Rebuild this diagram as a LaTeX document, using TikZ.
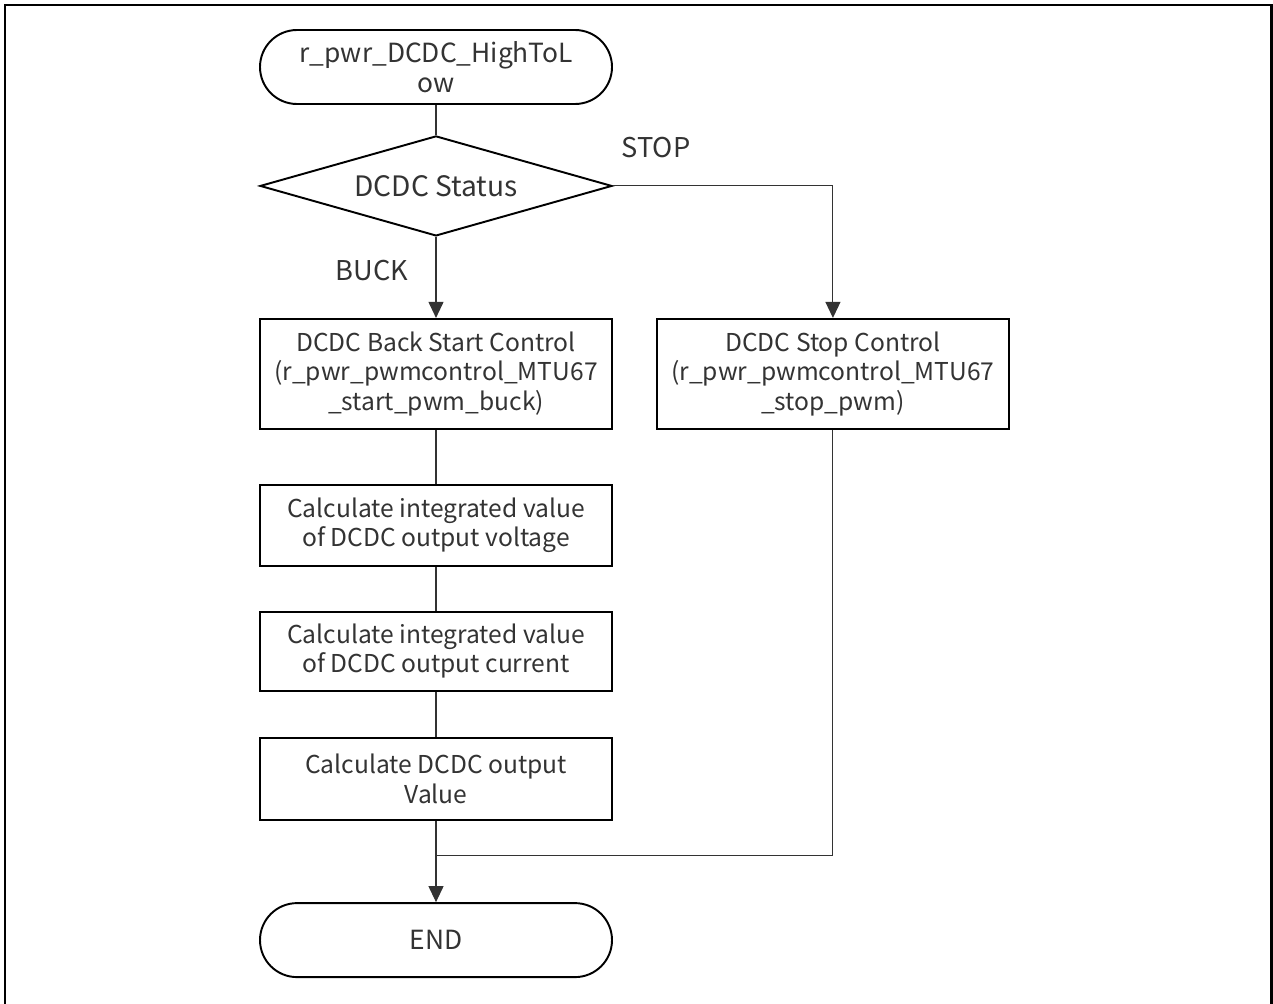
\documentclass[tikz,border=0pt]{standalone}
\usepackage{fontspec}
\setmainfont{Noto Sans CJK JP}
\usepackage{tikz}
\usetikzlibrary{
    arrows.meta,
    positioning,
    calc,
    shapes.geometric
}
\tikzset{
    terminal/.style={
        draw,
        line width=1.1pt,
        rounded corners=7.4mm,
        minimum width=70.4mm,
        minimum height=14.8mm,
        align=center,
        font=\fontsize{15}{17}\selectfont
    }
}
\tikzset{
    decision/.style={
        draw,
        diamond,
        shape aspect=3.5,
        line width=1.1pt,
        inner sep=0pt,
        minimum width=70.4mm,
        minimum height=20mm,
        align=center,
        font=\fontsize{16}{19}\selectfont
    }
}
\tikzset{
    process/.style={
        draw,
        line width=1.1pt,
        minimum width=70.4mm,
        align=center
    }
}
\tikzset{
    flowline/.style={
        draw=black!80,
        line width=0.6pt
    }
}
\tikzset{
    flowarrow/.style={
        flowline,
        -{Triangle[length=3.2mm,width=3mm]}
    }
}
\tikzset{
    branchlabel/.style={
        font=\fontsize{15.5}{18}\selectfont,
        text=black!80
    }
}

\begin{document}
\begin{tikzpicture}[
    font=\fontsize{14}{16.8}\selectfont,
    text=black!80,
    node distance=10mm
]

\useasboundingbox (0,0) rectangle (25.46,-20.06);

% ------------------------------------------------------------
% Frame
% ------------------------------------------------------------

\draw[line width=1.2pt]
    (0.1,-20.2) -- (0.1,-0.1) -- (25.43,-0.1) -- (25.43,-20.2);

% ------------------------------------------------------------
% Start and decision
% ------------------------------------------------------------

\node[terminal] (start) at (8.72,-1.34)
    {r\_pwr\_DCDC\_HighToL\\ow};

\node[decision, below=6.0mm of start] (status)
    {DCDC Status};

% ------------------------------------------------------------
% BUCK branch
% ------------------------------------------------------------

\node[process, minimum height=22mm, below=16.2mm of status] (buckstart)
    {DCDC Back Start Control\\(r\_pwr\_pwmcontrol\_MTU67\\\_start\_pwm\_buck)};

\node[process, minimum height=16.2mm, below=10.8mm of buckstart] (calcvolt)
    {Calculate integrated value\\of DCDC output voltage};

\node[process, minimum height=15.8mm, below=8.8mm of calcvolt] (calccurr)
    {Calculate integrated value\\of DCDC output current};

\node[process, minimum height=16.4mm, below=9.0mm of calccurr] (calcout)
    {Calculate DCDC output\\Value};

% ------------------------------------------------------------
% STOP branch
% ------------------------------------------------------------

\node[process, minimum height=22mm, right=8.6mm of buckstart] (stopctrl)
    {DCDC Stop Control\\(r\_pwr\_pwmcontrol\_MTU67\\\_stop\_pwm)};

% ------------------------------------------------------------
% End
% ------------------------------------------------------------

\node[terminal, below=16.3mm of calcout] (finish)
    {END};

\coordinate (merge) at ($(calcout.south)!0.43!(finish.north)$);

% ------------------------------------------------------------
% Connectors
% ------------------------------------------------------------

\draw[flowline] (start) -- (status);
\draw[flowarrow] (status) -- (buckstart);
\draw[flowarrow] (status.east) -| (stopctrl.north);
\draw[flowline] (buckstart) -- (calcvolt);
\draw[flowline] (calcvolt) -- (calccurr);
\draw[flowline] (calccurr) -- (calcout);
\draw[flowarrow] (calcout) -- (finish);
\draw[flowline] (stopctrl.south) |- (merge);

\node[branchlabel] (bucklabel) at (7.44,-5.42) {BUCK};
\node[branchlabel] (stoplabel) at (13.12,-2.96) {STOP};

\end{tikzpicture}
\end{document}
